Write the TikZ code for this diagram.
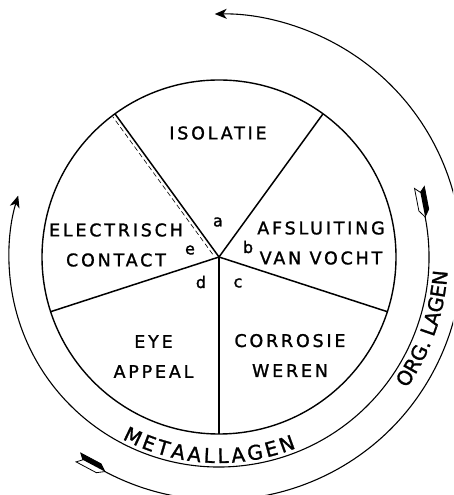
\documentclass[tikz,border=0pt]{standalone}
\usepackage{fontspec}
\usetikzlibrary{arrows.meta,decorations.text,calc}
\newfontfamily\lblfamily{DejaVu Sans}[LetterSpace=16,FakeBold=1.3]
\newfontfamily\arcfamily{DejaVu Sans}[FakeBold=1.3]
\newfontfamily\letfamily{DejaVu Sans}[FakeBold=1.5]
\newcommand\lblfont{\lblfamily\fontsize{17.5}{30}\selectfont}
\newcommand\arcfont{\arcfamily\fontsize{20}{24}\selectfont}
\newcommand\letfont{\letfamily\fontsize{16}{18}\selectfont}
\begin{document}
\begin{tikzpicture}[x=1pt,y=1pt,
  pie/.style={line width=1.4pt},
  spoke/.style={line width=1.5pt},
  ring/.style={line width=1.1pt},
  lbl/.style={font=\lblfont, align=center, inner sep=0pt},
  let/.style={font=\letfont, inner sep=0pt},
  tip/.style={-{Stealth[length=12pt,width=10pt,inset=3.5pt]}},
  fletch/.style={line width=0.8pt, fill=white}]
\clip (0,0) rectangle (453,495);
\coordinate (C) at (219,238);
% pie
\draw[pie] (C) circle[radius=177];
\foreach \a in {54,126,198,270,342} \draw[spoke] (C) -- ++(\a:177);
\draw[dashed, line width=0.6pt, dash pattern=on 5pt off 3pt]
  ($(C)+(126:6)+(216:3.5)$) -- ($(C)+(126:176)+(216:3.5)$);
% labels
\node[lbl] (iso) at (218,362) {ISOLATIE};
\node[lbl] (ele) at (116,250) {ELECTRISCH\\CONTACT};
\node[lbl] (afs) at (321,252) {AFSLUITING\\VAN VOCHT};
\node[lbl] (eye) at (153.5,138.5) {EYE\\APPEAL};
\node[lbl] (cor) at (290,139.5) {CORROSIE\\WEREN};
\node[let] (la) at (218,273) {a};
\node[let] (lb) at (248,248) {b};
\node[let] (lc) at (238,212) {c};
\node[let] (ld) at (201,213) {d};
\node[let] (le) at (190,245) {e};
% middle arc (metaallagen)
\draw[ring, tip] (C) ++(11:210) arc[start angle=11, end angle=-197, radius=210];
\begin{scope}[shift={($(C)+(11:210)$)}, rotate=101]
  \draw[fletch] (0,0) -- (7,5) -- (30,5) -- (25,0) -- (30,-5) -- (7,-5) -- cycle;
  \fill (0,0) -- (7,-5) -- (30,-5) -- (25,0) -- cycle;
\end{scope}
% outer arc (org. lagen)
\draw[ring, tip] (C) ++(242:243) arc[start angle=242, end angle=451, radius=243];
\begin{scope}[shift={($(C)+(242:243)$)}, rotate=152]
  \draw[fletch] (0,0) -- (7,5) -- (30,5) -- (25,0) -- (30,-5) -- (7,-5) -- cycle;
  \fill (0,0) -- (7,-5) -- (30,-5) -- (25,0) -- cycle;
\end{scope}
% curved texts
\path[decorate, decoration={text along path, text={|\arcfont|METAALLAGEN},
  text align={fit to path}}]
  (C) ++(242:206) arc[start angle=242, end angle=292, radius=206];
\path[decorate, decoration={text along path, text={|\arcfont|ORG. LAGEN},
  text align={fit to path}}]
  (C) ++(-35:229) arc[start angle=-35, end angle=-4, radius=229];
\end{tikzpicture}
\end{document}
